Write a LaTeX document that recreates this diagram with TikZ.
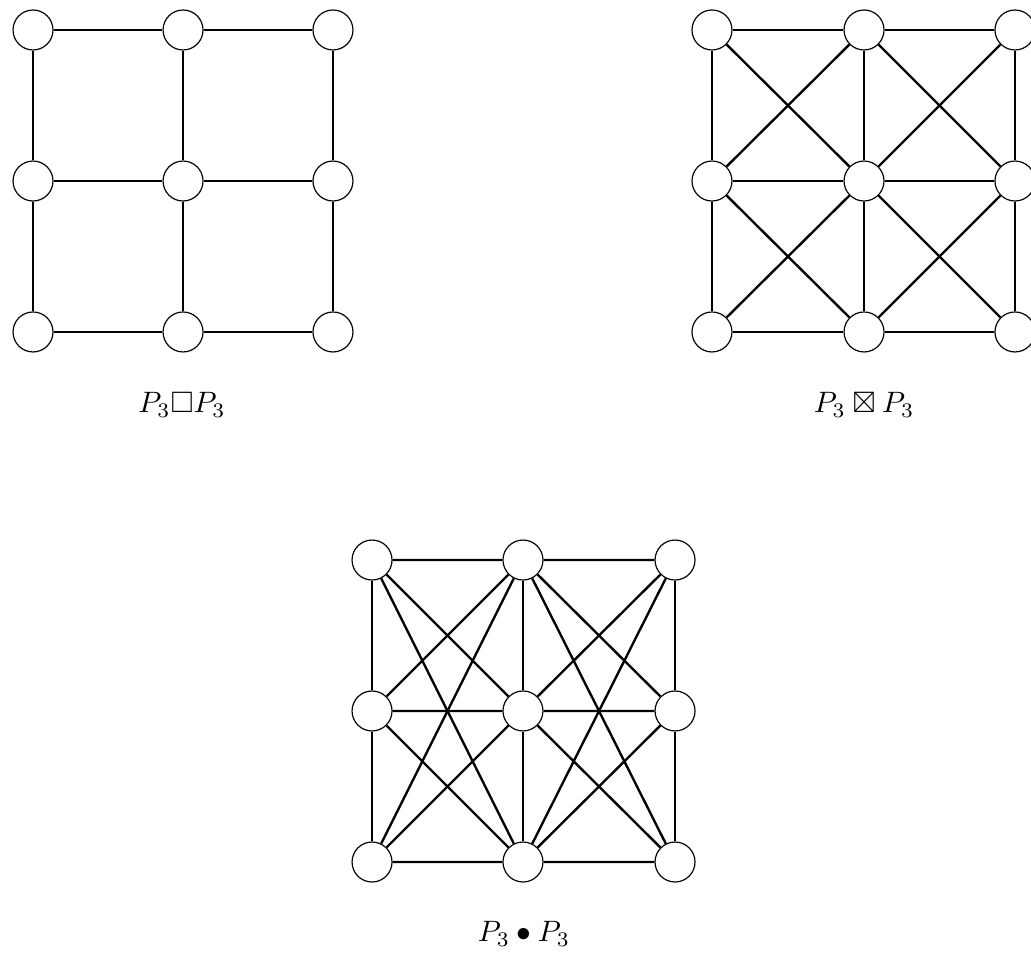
\documentclass[tikz,border=0pt]{standalone}
\usepackage{amssymb}
\tikzset{
  vtx/.style={circle, draw, thin, fill=white, minimum size=0.476cm, inner sep=0pt},
  edge/.style={thick}
}
\begin{document}
\begin{tikzpicture}
  \useasboundingbox (0,0) rectangle (12.274,-11.369);
  % P3 box P3
  \node[vtx] (b11) at (0.393,-0.357) {};
  \node[vtx] (b21) at (2.179,-0.357) {};
  \node[vtx] (b31) at (3.964,-0.357) {};
  \node[vtx] (b12) at (0.393,-2.155) {};
  \node[vtx] (b22) at (2.179,-2.155) {};
  \node[vtx] (b32) at (3.964,-2.155) {};
  \node[vtx] (b13) at (0.393,-3.952) {};
  \node[vtx] (b23) at (2.179,-3.952) {};
  \node[vtx] (b33) at (3.964,-3.952) {};
  \draw[edge] (b11) -- (b21) -- (b31) (b12) -- (b22) -- (b32) (b13) -- (b23) -- (b33);
  \draw[edge] (b11) -- (b12) -- (b13) (b21) -- (b22) -- (b23) (b31) -- (b32) -- (b33);
  \node (blabel) at (2.167,-4.82) {$P_3\Box P_3$};
  % P3 strong P3
  \node[vtx] (s11) at (8.476,-0.357) {};
  \node[vtx] (s21) at (10.286,-0.357) {};
  \node[vtx] (s31) at (12.083,-0.357) {};
  \node[vtx] (s12) at (8.476,-2.155) {};
  \node[vtx] (s22) at (10.286,-2.155) {};
  \node[vtx] (s32) at (12.083,-2.155) {};
  \node[vtx] (s13) at (8.476,-3.952) {};
  \node[vtx] (s23) at (10.286,-3.952) {};
  \node[vtx] (s33) at (12.083,-3.952) {};
  \draw[edge] (s11) -- (s21) -- (s31) (s12) -- (s22) -- (s32) (s13) -- (s23) -- (s33);
  \draw[edge] (s11) -- (s12) -- (s13) (s21) -- (s22) -- (s23) (s31) -- (s32) -- (s33);
  \draw[edge] (s11) -- (s22) -- (s33) (s31) -- (s22) -- (s13);
  \draw[edge] (s21) -- (s12) -- (s23) -- (s32) -- (s21);
  \node (slabel) at (10.286,-4.82) {$P_3 \boxtimes P_3$};
  % P3 lex P3
  \node[vtx] (l11) at (4.429,-6.667) {};
  \node[vtx] (l21) at (6.226,-6.667) {};
  \node[vtx] (l31) at (8.036,-6.667) {};
  \node[vtx] (l12) at (4.429,-8.464) {};
  \node[vtx] (l22) at (6.226,-8.464) {};
  \node[vtx] (l32) at (8.036,-8.464) {};
  \node[vtx] (l13) at (4.429,-10.262) {};
  \node[vtx] (l23) at (6.226,-10.262) {};
  \node[vtx] (l33) at (8.036,-10.262) {};
  \draw[edge] (l11) -- (l12) -- (l13) (l21) -- (l22) -- (l23) (l31) -- (l32) -- (l33);
  \draw[edge] (l11) -- (l21) (l11) -- (l22) (l11) -- (l23);
  \draw[edge] (l12) -- (l21) (l12) -- (l22) (l12) -- (l23);
  \draw[edge] (l13) -- (l21) (l13) -- (l22) (l13) -- (l23);
  \draw[edge] (l31) -- (l21) (l31) -- (l22) (l31) -- (l23);
  \draw[edge] (l32) -- (l21) (l32) -- (l22) (l32) -- (l23);
  \draw[edge] (l33) -- (l21) (l33) -- (l22) (l33) -- (l23);
  \node (llabel) at (6.238,-11.12) {$P_3 \bullet P_3$};
\end{tikzpicture}
\end{document}
